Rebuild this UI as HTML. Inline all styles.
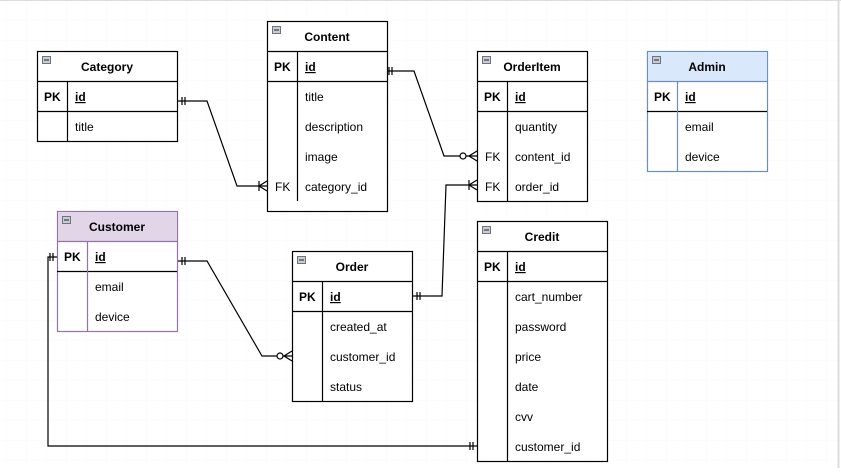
<!DOCTYPE html>
<html><head><meta charset="utf-8"><style>
body{margin:0;background:#fff;}
svg text{font-family:"Liberation Sans",Arial,sans-serif;font-size:12px;fill:#000;}
</style></head><body>
<svg width="841" height="468" viewBox="0 0 841 468" xmlns="http://www.w3.org/2000/svg">
<defs>
<pattern id="g" width="20" height="20" patternUnits="userSpaceOnUse" x="7" y="1">
<path d="M20 0V20M0 20H20" stroke="#f8f8f8" stroke-width="1" fill="none"/></pattern>
</defs>
<rect width="841" height="468" fill="#fff"/>
<rect x="0" y="1" width="838" height="467" fill="url(#g)"/>
<line x1="0" y1="0.5" x2="841" y2="0.5" stroke="#dcdcdc"/>
<line x1="838.5" y1="0" x2="838.5" y2="468" stroke="#dcdcdc" stroke-width="2"/>

<g fill="none" stroke="#000" stroke-width="1.2">
<polyline points="177,101 207,101 237,186 267,186"/>
<line x1="182" y1="97" x2="182" y2="105"/><line x1="185" y1="97" x2="185" y2="105"/>
<line x1="259" y1="181" x2="259" y2="191"/><line x1="259" y1="186" x2="267" y2="181"/><line x1="259" y1="186" x2="267" y2="191"/>
<polyline points="387,71 414,71 444,156 477,156"/>
<line x1="389" y1="67" x2="389" y2="75"/><line x1="392" y1="67" x2="392" y2="75"/>
<circle cx="463" cy="156" r="3" fill="#fff"/>
<line x1="469" y1="156" x2="477" y2="151"/><line x1="469" y1="156" x2="477" y2="161"/>
<polyline points="177,261 207,261 262,356 292,356"/>
<line x1="182" y1="257" x2="182" y2="265"/><line x1="185" y1="257" x2="185" y2="265"/>
<circle cx="280" cy="356" r="3" fill="#fff"/>
<line x1="284" y1="356" x2="292" y2="351"/><line x1="284" y1="356" x2="292" y2="361"/>
<polyline points="412,296 442,296 446,185 477,185"/>
<line x1="417" y1="292" x2="417" y2="300"/><line x1="420" y1="292" x2="420" y2="300"/>
<line x1="469" y1="180" x2="469" y2="190"/><line x1="469" y1="185" x2="477" y2="180"/><line x1="469" y1="185" x2="477" y2="190"/>
<polyline points="57,257 48,257 48,446 477,446"/>
<line x1="50" y1="253" x2="50" y2="261"/><line x1="53" y1="253" x2="53" y2="261"/>
<line x1="470" y1="442" x2="470" y2="450"/><line x1="473" y1="442" x2="473" y2="450"/>
</g>

<g stroke-width="1.2">
<rect x="37.5" y="51.5" width="140" height="90" fill="#fff" stroke="#000"/>
<line x1="37" y1="81.5" x2="177" y2="81.5" stroke="#000"/><line x1="37" y1="111.5" x2="177" y2="111.5" stroke="#000"/>
<line x1="67.5" y1="81" x2="67.5" y2="141" stroke="#000"/>
<rect x="267.5" y="21.5" width="120" height="190" fill="#fff" stroke="#000"/>
<line x1="267" y1="51.5" x2="387" y2="51.5" stroke="#000"/><line x1="267" y1="81.5" x2="387" y2="81.5" stroke="#000"/>
<line x1="297.5" y1="51" x2="297.5" y2="201" stroke="#000"/>
<rect x="477.5" y="51.5" width="110" height="150" fill="#fff" stroke="#000"/>
<line x1="477" y1="81.5" x2="587" y2="81.5" stroke="#000"/><line x1="477" y1="111.5" x2="587" y2="111.5" stroke="#000"/>
<line x1="507.5" y1="81" x2="507.5" y2="201" stroke="#000"/>
<rect x="647.5" y="51.5" width="120" height="120" fill="#fff" stroke="#6c8ebf"/>
<rect x="648" y="52" width="119" height="29" fill="#dae8fc"/>
<line x1="647" y1="81.5" x2="767" y2="81.5" stroke="#6c8ebf"/><line x1="647" y1="111.5" x2="767" y2="111.5" stroke="#000"/>
<line x1="677.5" y1="81" x2="677.5" y2="171" stroke="#6c8ebf"/>
<rect x="57.5" y="211.5" width="120" height="120" fill="#fff" stroke="#9673a6"/>
<rect x="58" y="212" width="119" height="29" fill="#e1d5e7"/>
<line x1="57" y1="241.5" x2="177" y2="241.5" stroke="#9673a6"/><line x1="57" y1="271.5" x2="177" y2="271.5" stroke="#000"/>
<line x1="87.5" y1="241" x2="87.5" y2="331" stroke="#9673a6"/>
<rect x="292.5" y="251.5" width="120" height="150" fill="#fff" stroke="#000"/>
<line x1="292" y1="281.5" x2="412" y2="281.5" stroke="#000"/><line x1="292" y1="311.5" x2="412" y2="311.5" stroke="#000"/>
<line x1="322.5" y1="281" x2="322.5" y2="401" stroke="#000"/>
<rect x="477.5" y="221.5" width="130" height="240" fill="#fff" stroke="#000"/>
<line x1="477" y1="251.5" x2="607" y2="251.5" stroke="#000"/><line x1="477" y1="281.5" x2="607" y2="281.5" stroke="#000"/>
<line x1="507.5" y1="251" x2="507.5" y2="461" stroke="#000"/>
</g>

<g fill="#c8ccd4" stroke="#6d7480" stroke-width="1">
<rect x="42.5" y="56.5" width="8" height="7"/><rect x="272.5" y="26.5" width="8" height="7"/>
<rect x="482.5" y="56.5" width="8" height="7"/><rect x="652.5" y="56.5" width="8" height="7"/>
<rect x="62.5" y="216.5" width="8" height="7"/><rect x="297.5" y="256.5" width="8" height="7"/>
<rect x="482.5" y="226.5" width="8" height="7"/>
</g>
<g stroke="#222" stroke-width="1">
<line x1="44" y1="60" x2="49" y2="60"/><line x1="274" y1="30" x2="279" y2="30"/>
<line x1="484" y1="60" x2="489" y2="60"/><line x1="654" y1="60" x2="659" y2="60"/>
<line x1="64" y1="220" x2="69" y2="220"/><line x1="299" y1="260" x2="304" y2="260"/>
<line x1="484" y1="230" x2="489" y2="230"/>
</g>

<g text-anchor="middle">
<text x="107" y="71" font-weight="bold">Category</text>
<text x="327" y="41" font-weight="bold">Content</text>
<text x="532" y="71" font-weight="bold">OrderItem</text>
<text x="707" y="71" font-weight="bold">Admin</text>
<text x="117" y="231" font-weight="bold">Customer</text>
<text x="352" y="271" font-weight="bold">Order</text>
<text x="542" y="241" font-weight="bold">Credit</text>
</g>
<g>
<text x="44" y="101" font-weight="bold">PK</text><text x="75" y="101" font-weight="bold" text-decoration="underline">id</text>
<text x="274" y="71" font-weight="bold">PK</text><text x="305" y="71" font-weight="bold" text-decoration="underline">id</text>
<text x="484" y="101" font-weight="bold">PK</text><text x="515" y="101" font-weight="bold" text-decoration="underline">id</text>
<text x="654" y="101" font-weight="bold">PK</text><text x="685" y="101" font-weight="bold" text-decoration="underline">id</text>
<text x="64" y="261" font-weight="bold">PK</text><text x="95" y="261" font-weight="bold" text-decoration="underline">id</text>
<text x="299" y="301" font-weight="bold">PK</text><text x="330" y="301" font-weight="bold" text-decoration="underline">id</text>
<text x="484" y="271" font-weight="bold">PK</text><text x="515" y="271" font-weight="bold" text-decoration="underline">id</text>
</g>
<g>
<text x="75" y="131">title</text>
<text x="305" y="101">title</text><text x="305" y="131">description</text><text x="305" y="161">image</text>
<text x="275" y="191">FK</text><text x="305" y="191">category_id</text>
<text x="515" y="131">quantity</text>
<text x="485" y="161">FK</text><text x="515" y="161">content_id</text>
<text x="485" y="191">FK</text><text x="515" y="191">order_id</text>
<text x="685" y="131">email</text><text x="685" y="161">device</text>
<text x="95" y="291">email</text><text x="95" y="321">device</text>
<text x="330" y="331">created_at</text><text x="330" y="361">customer_id</text><text x="330" y="391">status</text>
<text x="515" y="301">cart_number</text><text x="515" y="331">password</text><text x="515" y="361">price</text>
<text x="515" y="391">date</text><text x="515" y="421">cvv</text><text x="515" y="451">customer_id</text>
</g>
</svg>
</body></html>
